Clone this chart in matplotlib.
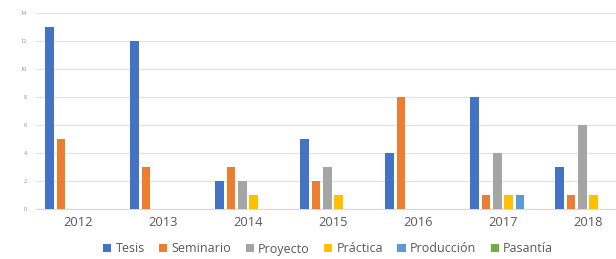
import numpy as np
import matplotlib.pyplot as plt

plt.rcParams['font.family'] = ['Open Sans', 'DejaVu Sans']

years = ['2012', '2013', '2014', '2015', '2016', '2017', '2018']
series = ['Tesis', 'Seminario', 'Proyecto', 'Práctica', 'Producción', 'Pasantía']
tesis = [13, 12, 2, 5, 4, 8, 3]
seminario = [5, 3, 3, 2, 8, 1, 1]
proyecto = [0, 0, 2, 3, 0, 4, 6]
practica = [0, 0, 1, 1, 0, 1, 1]
produccion = [0, 0, 0, 0, 0, 1, 0]
pasantia = [0, 0, 0, 0, 0, 0, 0]
values = [tesis, seminario, proyecto, practica, produccion, pasantia]
colors = ['#4472C4', '#ED7D31', '#A5A5A5', '#FFC000', '#5B9BD5', '#70AD47']

fig = plt.figure(figsize=(6.16, 2.59), dpi=100)
ax = fig.add_axes([35.5 / 616, 50.3 / 259, 580.5 / 616, 196 / 259])

x = np.arange(len(years))
step = 0.133
width = 0.1
for i, (name, vals, c) in enumerate(zip(series, values, colors)):
    ax.bar(x + (i - 2.5) * step, vals, width, color=c, label=name, zorder=3)

ax.set_xlim(-0.5, 6.33)
ax.set_ylim(0, 14)
ax.set_yticks(range(0, 15, 2))
ax.set_xticks(x)
ax.set_xticklabels(years)
ax.yaxis.grid(True, color='#E3E3E3', linewidth=0.9, zorder=0)
for s in ['top', 'right', 'left']:
    ax.spines[s].set_visible(False)
ax.spines['bottom'].set_color('#D9D9D9')
ax.tick_params(axis='y', length=0, labelsize=4, labelcolor='#8C8C8C', pad=6)
ax.tick_params(axis='x', length=0, labelsize=9.3, labelcolor='#595959', pad=5)

fig.legend(loc='center', bbox_to_anchor=(328 / 616, 10 / 259), ncol=6,
           frameon=False, fontsize=9, handlelength=0.65, handleheight=0.65,
           handletextpad=0.35, columnspacing=1.15, labelcolor='#595959')

fig.savefig('out.png', dpi=100)
